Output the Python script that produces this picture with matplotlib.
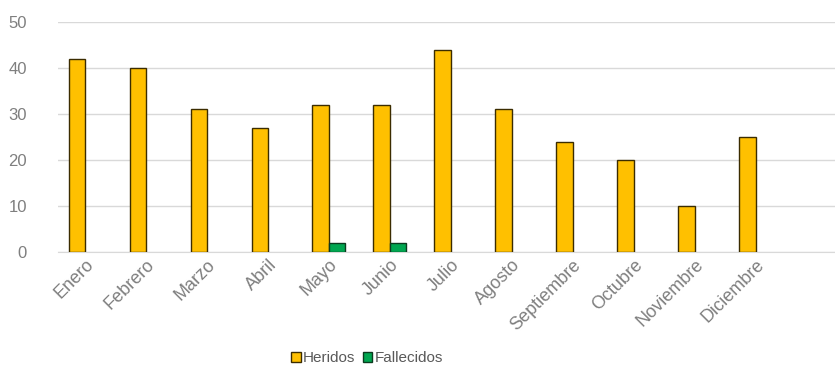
import matplotlib.pyplot as plt
import numpy as np

# data
meses = ['Enero', 'Febrero', 'Marzo', 'Abril', 'Mayo', 'Junio', 'Julio',
         'Agosto', 'Septiembre', 'Octubre', 'Noviembre', 'Diciembre']
heridos = [42, 40, 31, 27, 32, 32, 44, 31, 24, 20, 10, 25]
fallecidos = [0, 0, 0, 0, 2, 2, 0, 0, 0, 0, 0, 0]

plt.rcParams['font.family'] = ['Liberation Sans', 'DejaVu Sans']

fig = plt.figure(figsize=(8.35, 3.66), dpi=100)
ax = fig.add_axes([0.069, 0.311, 0.931, 0.629])

x = np.arange(len(meses))
w = 0.27
ax.bar(x - w / 2, heridos, w, color='#FFC000', edgecolor='#3b2c00',
       linewidth=[1.0 if v else 0 for v in heridos], label='Heridos', zorder=3)
ax.bar(x + w / 2, fallecidos, w, color='#00A650', edgecolor='#0b3b1f',
       linewidth=[1.0 if v else 0 for v in fallecidos], label='Fallecidos',
       zorder=3)

# axes styling
ax.set_ylim(0, 50)
ax.set_xlim(-0.45, 12.3)
ax.set_yticks(range(0, 51, 10))
ax.yaxis.grid(True, color='#d9d9d9', linewidth=1)
for s in ['top', 'right', 'left']:
    ax.spines[s].set_visible(False)
ax.spines['bottom'].set_color('#d9d9d9')
ax.tick_params(axis='both', length=0, colors='#7f7f7f', labelsize=12)
ax.tick_params(axis='x', labelsize=13, pad=3)
ax.tick_params(axis='y', pad=22)
ax.set_xticks(x)
ax.set_xticklabels(meses, rotation=45, ha='right', rotation_mode='anchor')

leg = ax.legend(loc='upper center', bbox_to_anchor=(0.398, -0.37), ncol=2,
                frameon=False, fontsize=11, handlelength=0.6, handleheight=0.6,
                handletextpad=0.15, columnspacing=0.5, labelcolor='#595959')
for h in leg.legend_handles:
    h.set_linewidth(1.0)

plt.savefig('out.png', dpi=100)
